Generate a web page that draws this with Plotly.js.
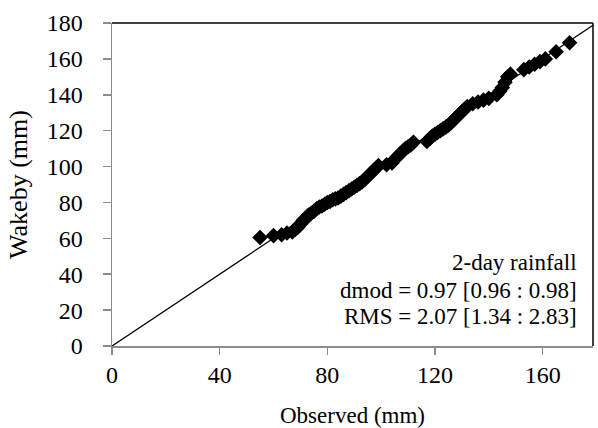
<!DOCTYPE html>
<html><head><meta charset="utf-8">
<script src="https://cdn.plot.ly/plotly-3.0.1.min.js"></script>
<style>html,body{margin:0;padding:0;background:#fff}#c{width:598px;height:428px}</style>
</head><body><div id="c"></div>
<script>
const observed = [55,60,63,65,67,68,69,70,71,72,73,74,75,76,77,78,79,80,81,82,83,84,85,86,87,88,89,90,91,92,93,94,95,96,97,98,99,102,104,105,106,107,108,109,110,111,112,117,118,119,120,121,122,123,124,125,126,127,128,129,130,131,132,134,136,138,140,143,144,145,146,147,148,153,155,157,159,161,165,170];
const wakeby   = [60.5,61.5,62,63,63.5,65,66,68,70,71,73,74,75,76.5,77.5,78,79,80,80.5,81.5,82,82.5,83.5,84.5,85.5,86.5,87.5,88.5,89.5,90.5,91.5,93,94.5,96,97.5,99,100.5,101,102,104,105.5,107,108.5,110,111,112,113.5,114,115.5,117,118,119,120,121,122,123,124.5,126,127.5,129,130.5,132,133.5,135,136,137,138,140,142,144,147,150,151.5,154,155.5,157,158.5,160,164,169];
const refLine = [0,180];
const xTicks = [0,40,80,120,160];
const yTicks = [0,20,40,60,80,100,120,140,160,180];
const noteLines = ["2-day rainfall","dmod = 0.97 [0.96 : 0.98]","RMS = 2.07 [1.34 : 2.83]"];
const noteY = [46.5, 31, 16.5];

const serif = "Liberation Serif";
const data = [
 {x: refLine, y: refLine, mode:'lines', line:{color:'#000', width:1.3}, hoverinfo:'skip'},
 {x: observed, y: wakeby, mode:'markers', marker:{symbol:'diamond', size:12, color:'#000'}}
];
const layout = {
 width:598, height:428, showlegend:false,
 paper_bgcolor:'#fff', plot_bgcolor:'#fff',
 font:{family:serif, color:'#000'},
 margin:{l:112, r:5, t:23, b:82},
 xaxis:{range:[0,178.7], tickvals:xTicks, ticktext:xTicks.map(String), showgrid:false, zeroline:false,
   showline:true, linecolor:'#8c8c8c', linewidth:1.5, ticks:'outside', ticklen:7, tickcolor:'#8c8c8c', tickwidth:1.5,
   tickfont:{family:serif, size:24, color:'#000'}, ticklabelstandoff:0,
   title:{text:'Observed (mm)', font:{family:serif, size:23, color:'#000'}, standoff:26}},
 yaxis:{range:[0,180], tickvals:yTicks, ticktext:yTicks.map(String), showgrid:false, zeroline:false,
   showline:true, linecolor:'#8c8c8c', linewidth:1.5, ticks:'outside', ticklen:8, tickcolor:'#8c8c8c', tickwidth:1.5,
   tickfont:{family:serif, size:24, color:'#000'}, ticklabelstandoff:15,
   title:{text:'Wakeby (mm)', font:{family:serif, size:26, color:'#000'}, standoff:11}},
 shapes:[
  {type:'line', xref:'paper', yref:'paper', x0:0, x1:1, y0:1, y1:1, line:{color:'#000', width:1.5}},
  {type:'line', xref:'paper', yref:'paper', x0:1, x1:1, y0:0, y1:1, line:{color:'#000', width:1.5}}
 ],
 annotations: noteLines.map((t,i)=>({xref:'x', yref:'y', x:173.6, y:noteY[i], xanchor:'right', yanchor:'middle',
   showarrow:false, text:t, font:{family:serif, size:23, color:'#000'}}))
};
Plotly.newPlot('c', data, layout, {displayModeBar:false, staticPlot:true});
</script></body></html>
